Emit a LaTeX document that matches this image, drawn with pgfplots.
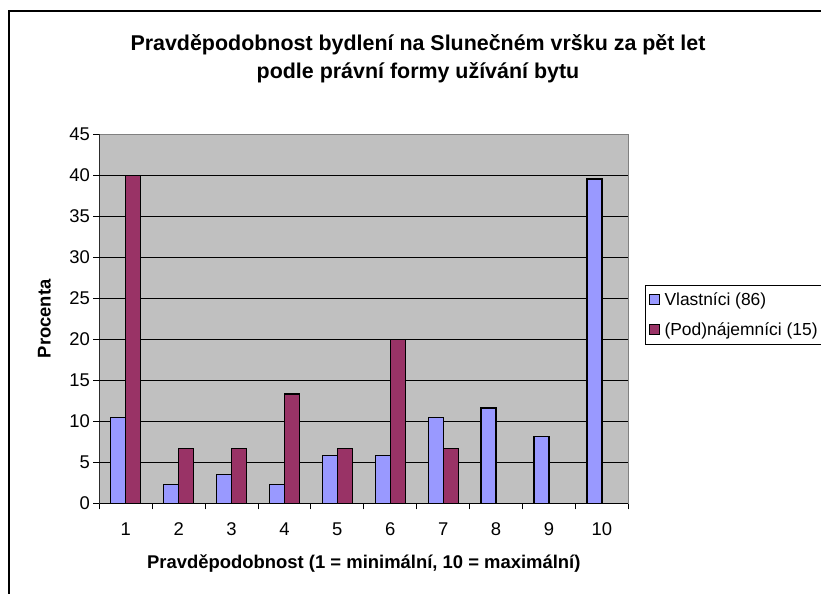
\documentclass[border=0pt]{standalone}
\usepackage{fontspec}
\setmainfont{Liberation Sans}
\usepackage{pgfplots}
\pgfplotsset{compat=1.18}
\definecolor{vlast}{HTML}{9999FF}
\definecolor{najem}{HTML}{993366}
\definecolor{plotbg}{HTML}{C0C0C0}

\begin{document}
\begin{tikzpicture}[x=1bp,y=1bp]
\useasboundingbox (0,0) rectangle (821,594);
% outer chart frame (cut at the right and bottom)
\draw[line width=1.2bp] (9,0) -- (9,583) -- (821,583);

\begin{axis}[
  at={(99.3bp,90.7bp)},anchor=south west,
  scale only axis,width=529bp,height=369bp,
  xmin=0.5,xmax=10.5,ymin=0,ymax=45,
  ybar=0pt,bar width=15bp,
  xtick={1,...,10},
  minor xtick={0.5,1.5,...,10.5},
  every major x tick/.append style={draw=none},
  every minor x tick/.append style={black,line width=1bp},
  ytick={0,5,...,45},
  major tick length=6bp,minor tick length=6bp,
  tick align=outside,tick pos=left,
  extra y ticks={5,10,...,40},
  extra y tick labels={},
  extra y tick style={ymajorgrids=true,major tick length=0pt},
  major grid style={black,line width=1.1bp},
  axis background/.style={fill=plotbg},
  axis line style={gray,line width=1bp},
  every tick/.style={black,line width=1bp},
  /pgf/number format/assume math mode=true,
  tick label style={font=\fontsize{18.5}{20}\selectfont},
  x tick label style={yshift=-10bp},
  xlabel={Pravděpodobnost (1 = minimální, 10 = maximální)},
  ylabel={Procenta},
  label style={font=\fontsize{18.5}{20}\selectfont\bfseries},
  xlabel style={at={(axis description cs:0.5,0)},anchor=center,yshift=-60bp},
  ylabel style={at={(axis description cs:0,0.5)},anchor=center,yshift=55bp},
  legend style={at={(1.0316,0.5916)},anchor=north west,draw=black,line width=1bp,
    font=\fontsize{17.5}{20}\selectfont,row sep=12bp,
    inner xsep=3bp,inner ysep=5bp,
    nodes={inner xsep=5bp}},
  legend cell align=left,
  legend image code/.code={\draw[#1,line width=1bp] (0bp,-5bp) rectangle (10bp,5bp);},
]
\addplot[draw=black,line width=1.3bp,fill=vlast] coordinates {
  (1,10.47) (2,2.33) (3,3.49) (4,2.33) (5,5.81)
  (6,5.81) (7,10.47) (8,11.63) (9,8.14) (10,39.53)};
\addlegendentry{Vlastníci (86)}
\addplot[draw=black,line width=1.3bp,fill=najem] coordinates {
  (1,40.00) (2,6.67) (3,6.67) (4,13.33) (5,6.67)
  (6,20.00) (7,6.67)};
\addlegendentry{(Pod)nájemníci (15)}
% black left and bottom axis lines over the grey frame
\draw[black,line width=1.2bp] (rel axis cs:0,1) -- (rel axis cs:0,0) -- (rel axis cs:1,0);
\end{axis}

\node[align=center,font=\fontsize{21.5}{28}\selectfont\bfseries] at (418,535)
  {Pravděpodobnost bydlení na Slunečném vršku za pět let\\podle právní formy užívání bytu};
\end{tikzpicture}
\end{document}
